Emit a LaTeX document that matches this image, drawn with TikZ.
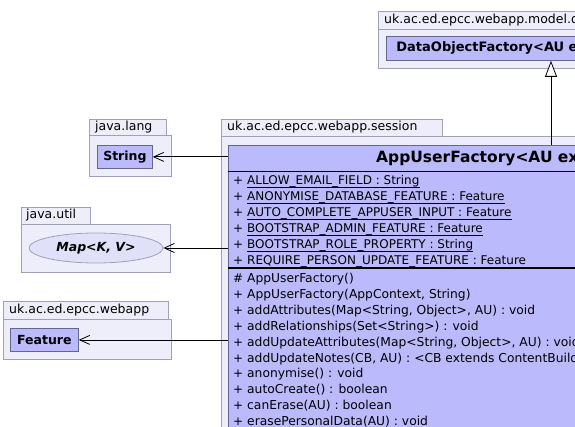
\documentclass[tikz,border=0pt]{standalone}
\usepackage{fontspec}
\setmainfont{DejaVu Sans}
\usetikzlibrary{arrows.meta,shapes.geometric}
\definecolor{pkgfill}{RGB}{238,238,251}
\definecolor{pkgline}{RGB}{160,160,184}
\definecolor{clsfill}{RGB}{186,186,252}
\definecolor{clsline}{RGB}{100,100,140}
\definecolor{ifcfill}{RGB}{224,224,248}

\begin{document}
\begin{tikzpicture}[x=1pt, y=-1pt,
    pkg/.style={draw=pkgline, fill=pkgfill, line width=0.8pt},
    pkgname/.style={anchor=west, inner sep=0pt, font=\fontsize{12.5}{14}\selectfont},
    cls/.style={draw=clsline, fill=clsfill, line width=0.8pt, anchor=north west, inner sep=0pt,
                font=\fontsize{12.5}{14}\selectfont\bfseries},
    vis/.style={anchor=base west, inner sep=0pt, font=\fontsize{12}{14}\selectfont},
    member/.style={anchor=base west, inner sep=0pt, font=\fontsize{12}{14}\selectfont},
    dep/.style={-{Straight Barb[length=10pt,width=9pt]}, line width=0.8pt},
    ext/.style={-{Triangle[open,length=16pt,width=12pt,fill=white]}, line width=0.8pt}]
\useasboundingbox (0,0) rectangle (575,427);
\clip (0,0) rectangle (575,427);

\draw[pkg] (378,11) rectangle (640,29);
\draw[pkg] (378,29) rectangle (720,68);
\node[pkgname] (pkgmodel) at (384,20) {uk.ac.ed.epcc.webapp.model.data};
\node[cls, text width=420pt, inner xsep=10pt, align=left, minimum height=24pt,
      font=\fontsize{13}{15}\selectfont\bfseries] (dof) at (386,36)
    {DataObjectFactory<AU extends DataObject>};

\draw[pkg] (89,119) rectangle (166,135);
\draw[pkg] (89,135) rectangle (171,176);
\node[pkgname] (pkglang) at (95,127) {java.lang};
\node[cls, minimum width=55pt, minimum height=23pt] (string) at (97,145) {String};

\draw[pkg] (21,207) rectangle (90,224);
\draw[pkg] (21,224) rectangle (170,272);
\node[pkgname] (pkgutil) at (26,215.5) {java.util};
\node[draw=pkgline, fill=ifcfill, ellipse, line width=0.8pt, minimum width=134pt, minimum height=30pt,
      font=\fontsize{12.5}{14}\selectfont\bfseries\itshape] (map) at (96,248) {Map<K, V>};

\draw[pkg] (3,301) rectangle (168,319);
\draw[pkg] (3,319) rectangle (171,359);
\node[pkgname] (pkgwebapp) at (9,310) {uk.ac.ed.epcc.webapp};
\node[cls, minimum width=68pt, minimum height=23pt] (feature) at (10,328) {Feature};

\draw[pkg] (221,119) rectangle (442,136);
\draw[pkg] (221,136) rectangle (800,520);
\node[pkgname] (pkgsession) at (227,127.5) {uk.ac.ed.epcc.webapp.session};

\node[cls, minimum width=650pt, minimum height=360pt] (auf) at (228,145) {};
\node[anchor=west, inner sep=0pt, font=\fontsize{15.5}{18}\selectfont\bfseries] (aufname) at (376,158)
    {AppUserFactory<AU extends AppUser>};
\draw[line width=0.8pt] (auf.west |- 0,171) -- (auf.east |- 0,171);
\draw[line width=1.8pt] (auf.west |- 0,268) -- (auf.east |- 0,268);

\foreach \t [count=\i] in {ALLOW\_EMAIL\_FIELD : String, ANONYMISE\_DATABASE\_FEATURE : Feature,
        AUTO\_COMPLETE\_APPUSER\_INPUT : Feature, BOOTSTRAP\_ADMIN\_FEATURE : Feature,
        BOOTSTRAP\_ROLE\_PROPERTY : String, REQUIRE\_PERSON\_UPDATE\_FEATURE : Feature} {
    \node[vis] (attrvis\i) at (233,{185+15.9*(\i-1)}) {+};
    \node[member] (attr\i) at (247,{185+15.9*(\i-1)}) {\t};
    \draw[line width=0.8pt] ([yshift=-2.6pt]attr\i.base west) -- ([yshift=-2.6pt]attr\i.base east);
}

\foreach \v/\t [count=\i] in {\#/{AppUserFactory()}, +/{AppUserFactory(AppContext, String)},
        +/{addAttributes(Map<String, Object>, AU) : void}, +/{addRelationships(Set<String>) : void},
        +/{addUpdateAttributes(Map<String, Object>, AU) : void},
        +/{addUpdateNotes(CB, AU) : <CB extends ContentBuilder> CB}, +/{anonymise() : void},
        +/{autoCreate() : boolean}, +/{canErase(AU) : boolean}, +/{erasePersonalData(AU) : void}} {
    \node[vis] (opvis\i) at (233,{283+15.8*(\i-1)}) {\v};
    \node[member, font=\fontsize{12.3}{14}\selectfont] (op\i) at (247,{283+15.8*(\i-1)}) {\t};
}

\draw[dep] (string.east -| auf.west) -- (string.east);
\draw[dep] (map.east -| auf.west) -- (map.east);
\draw[dep] (feature.east -| auf.west) -- (feature.east);

\coordinate (inh) at (551,0);
\draw[ext] (inh |- auf.north) -- (inh |- dof.south);
\end{tikzpicture}
\end{document}
